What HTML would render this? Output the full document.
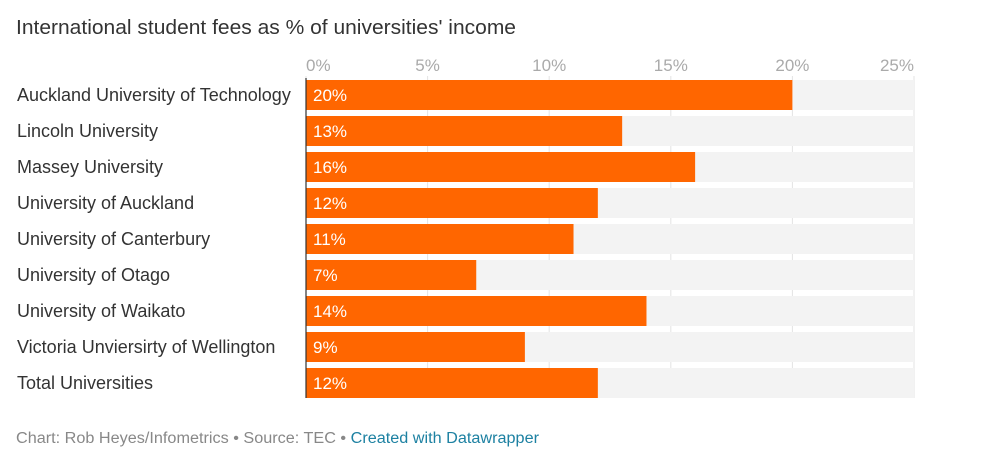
<!DOCTYPE html>
<html><head><meta charset="utf-8"><style>
body{margin:0;background:#fff;width:1006px;height:466px;overflow:hidden;font-family:"Liberation Sans",sans-serif}
</style></head><body>
<svg id="c" width="1006" height="466" xmlns="http://www.w3.org/2000/svg"></svg>
<script>
const categories=["Auckland University of Technology","Lincoln University","Massey University","University of Auckland","University of Canterbury","University of Otago","University of Waikato","Victoria Unviersirty of Wellington","Total Universities"];
const values=[20,13,16,12,11,7,14,9,12];
const ticks=[0,5,10,15,20,25];
const svg=document.getElementById('c');
const NS='http://www.w3.org/2000/svg';
const x0=306,xMax=914,maxV=25,top0=80,pitch=36,bh=30;
const x=v=>x0+(xMax-x0)*v/maxV;
const y=i=>top0+i*pitch;
function mk(t,a,txt){const e=document.createElementNS(NS,t);for(const k in a)e.setAttribute(k,a[k]);if(txt!=null)e.textContent=txt;svg.appendChild(e);return e;}
let e=mk('text',{x:16,y:34,'font-size':20,fill:'#333',textLength:500,lengthAdjust:'spacingAndGlyphs'},"International student fees as % of universities' income");


ticks.forEach(t=>{
 const g=mk('line',{x1:x(t),x2:x(t),y1:76,y2:398,stroke:'#e3e3e3','stroke-width':1});
 
 
 const tl=mk('text',{x:x(t),y:71,'font-size':17,fill:'#aaa','text-anchor':t===0?'start':(t===25?'end':'middle')},t+'%');
 
 
});
categories.forEach((c,i)=>{
 const bg=mk('rect',{x:x0,y:y(i),width:xMax-x0,height:bh,fill:'#f3f3f3'});
 
 
 const b=mk('rect',{x:x0,y:y(i),width:x(values[i])-x0,height:bh,fill:'#ff6600'});
 
 
 const l=mk('text',{x:17,y:y(i)+21,'font-size':18,fill:'#333'},c);
 
 
 const v=mk('text',{x:x0+7,y:y(i)+21,'font-size':17,fill:'#fff'},values[i]+'%');
 
 
});
const ax=mk('line',{x1:x0,x2:x0,y1:78,y2:398,stroke:'#333','stroke-width':1.2});


const f=mk('text',{x:16,y:443,'font-size':15.5,fill:'#888',textLength:523,lengthAdjust:'spacingAndGlyphs'});


const s1=document.createElementNS(NS,'tspan');s1.textContent='Chart: Rob Heyes/Infometrics • Source: TEC • ';f.appendChild(s1);
const s2=document.createElementNS(NS,'tspan');s2.textContent='Created with Datawrapper';s2.setAttribute('fill','#1d81a2');f.appendChild(s2);


</script>
</body></html>
